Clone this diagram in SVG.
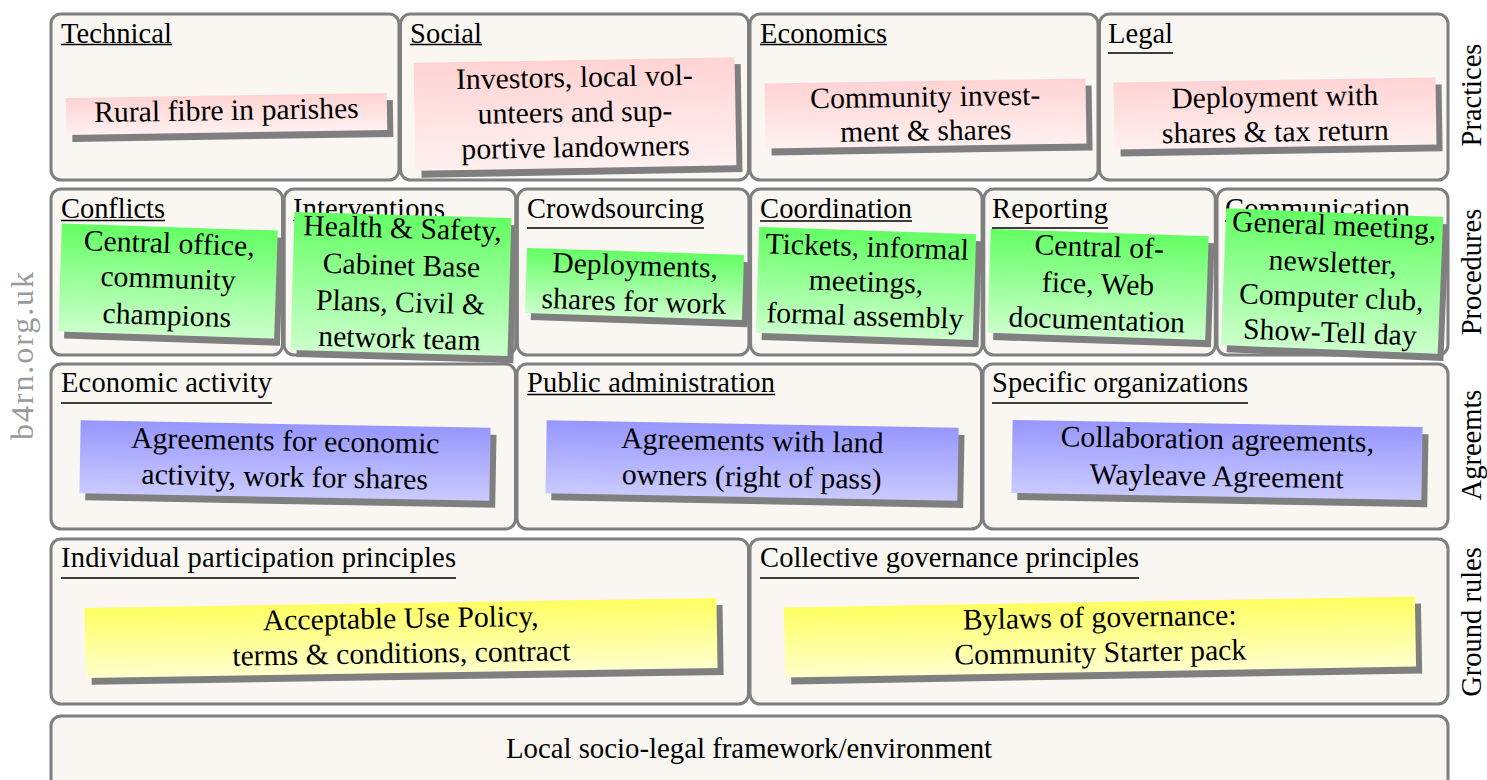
<svg xmlns="http://www.w3.org/2000/svg" width="1487" height="780" viewBox="0 0 1487 780">
<defs>
<linearGradient id="gPink" x1="0" y1="0" x2="0" y2="1"><stop offset="0" stop-color="#ffd3d3"/><stop offset="1" stop-color="#fff0f0"/></linearGradient>
<linearGradient id="gGreen" x1="0" y1="0" x2="0" y2="1"><stop offset="0" stop-color="#63ff63"/><stop offset="1" stop-color="#ccffcc"/></linearGradient>
<linearGradient id="gBlue" x1="0" y1="0" x2="0" y2="1"><stop offset="0" stop-color="#9696ff"/><stop offset="1" stop-color="#cacaff"/></linearGradient>
<linearGradient id="gYellow" x1="0" y1="0" x2="0" y2="1"><stop offset="0" stop-color="#ffff60"/><stop offset="1" stop-color="#ffffcc"/></linearGradient>
<style>
.box{fill:#faf7f2;stroke:#7f7f7f;stroke-width:3}
.t{font-family:"Liberation Serif","Times New Roman",serif;font-size:28.5px;fill:#000}
.n{font-family:"Liberation Serif","Times New Roman",serif;font-size:29.7px;fill:#000;text-anchor:middle}
.ul{stroke:#000;stroke-width:1.3}
.sh{fill:#7f7f7f}
.side{font-family:"Liberation Serif","Times New Roman",serif;font-size:28.5px;fill:#000;text-anchor:middle}
.wm{font-family:"Liberation Serif","Times New Roman",serif;font-size:32px;fill:#9a9a9a;text-anchor:middle}
</style>
</defs>

<text class="wm" transform="translate(33,356) rotate(-90)" textLength="168">b4rn.org.uk</text>

<g id="labels">
<text class="side" transform="translate(1481,95) rotate(-90)">Practices</text>
<text class="side" transform="translate(1481,272) rotate(-90)">Procedures</text>
<text class="side" transform="translate(1481,445) rotate(-90)">Agreemts</text>
<text class="side" transform="translate(1481,622) rotate(-90)">Ground rules</text>
</g>

<!-- Row 1: Practices -->
<g id="box-technical"><rect class="box" x="51" y="14" width="348" height="166" rx="10"/><text class="t" x="61" y="42.5" textLength="111">Technical</text><line class="ul" x1="61" y1="44.5" x2="172" y2="44.5"/></g>
<g id="box-social"><rect class="box" x="400.5" y="14" width="348" height="166" rx="10"/><text class="t" x="410" y="42.5" textLength="72">Social</text><line class="ul" x1="410" y1="44.5" x2="482" y2="44.5"/></g>
<g id="box-economics"><rect class="box" x="750" y="14" width="348" height="166" rx="10"/><text class="t" x="760" y="42.5" textLength="127">Economics</text><line class="ul" x1="760" y1="44.5" x2="887" y2="44.5"/></g>
<g id="box-legal"><rect class="box" x="1099.5" y="14" width="348.5" height="166" rx="10"/><text class="t" x="1108" y="42.5" textLength="65">Legal</text><line class="ul" x1="1108" y1="53" x2="1173" y2="53"/></g>

<!-- Row 2: Procedures -->
<g id="box-conflicts"><rect class="box" x="51" y="189" width="231.5" height="166" rx="10"/><text class="t" x="61" y="218" textLength="104">Conflicts</text><line class="ul" x1="61" y1="220.5" x2="165" y2="220.5"/></g>
<g id="box-interventions"><rect class="box" x="284.2" y="189" width="231.5" height="166" rx="10"/><text class="t" x="293" y="218" textLength="152">Interventions</text><line class="ul" x1="293" y1="220.5" x2="445" y2="220.5"/></g>
<g id="box-crowdsourcing"><rect class="box" x="517.4" y="189" width="231.5" height="166" rx="10"/><text class="t" x="527" y="218" textLength="177">Crowdsourcing</text><line class="ul" x1="527" y1="228" x2="704" y2="228"/></g>
<g id="box-coordination"><rect class="box" x="750.6" y="189" width="231.5" height="166" rx="10"/><text class="t" x="760" y="218" textLength="152">Coordination</text><line class="ul" x1="760" y1="221" x2="912" y2="221"/></g>
<g id="box-reporting"><rect class="box" x="983.8" y="189" width="231.5" height="166" rx="10"/><text class="t" x="992" y="218" textLength="116">Reporting</text><line class="ul" x1="992" y1="228" x2="1108" y2="228"/></g>
<g id="box-communication"><rect class="box" x="1217" y="189" width="231" height="166" rx="10"/><text class="t" x="1225" y="218" textLength="185">Communication</text><line class="ul" x1="1225" y1="221" x2="1410" y2="221"/></g>

<!-- Row 3: Agreements -->
<g id="box-economic-activity"><rect class="box" x="51" y="364" width="464.5" height="165" rx="10"/><text class="t" x="61" y="392" textLength="211">Economic activity</text><line class="ul" x1="61" y1="403" x2="272" y2="403"/></g>
<g id="box-public-administration"><rect class="box" x="517" y="364" width="464.5" height="165" rx="10"/><text class="t" x="527" y="392" textLength="248">Public administration</text><line class="ul" x1="527" y1="394.5" x2="775" y2="394.5"/></g>
<g id="box-specific-organizations"><rect class="box" x="983" y="364" width="465" height="165" rx="10"/><text class="t" x="992" y="392" textLength="256">Specific organizations</text><line class="ul" x1="992" y1="403" x2="1248" y2="403"/></g>

<!-- Row 4: Ground rules -->
<g id="box-individual"><rect class="box" x="51" y="539" width="697.5" height="165" rx="10"/><text class="t" x="61" y="567" textLength="395">Individual participation principles</text><line class="ul" x1="61" y1="578" x2="456" y2="578"/></g>
<g id="box-collective"><rect class="box" x="750" y="539" width="698" height="165" rx="10"/><text class="t" x="760" y="567" textLength="379">Collective governance principles</text><line class="ul" x1="760" y1="578" x2="1139" y2="578"/></g>

<!-- Row 5 -->
<g id="box-framework"><rect class="box" x="51" y="716" width="1397" height="110" rx="10"/><text class="n" x="749" y="758" style="font-size:28.8px">Local socio-legal framework/environment</text></g>

<g id="connectors"></g>

<!-- Sticky notes -->
<g id="note-technical" transform="translate(226.5,114) rotate(-0.9)">
<rect class="sh" x="-154.5" y="-11.5" width="321" height="37"/><rect x="-160.5" y="-18.5" width="321" height="37" fill="url(#gPink)"/>
<text class="n" x="0" y="6">Rural fibre in parishes</text></g>
<g id="note-social" transform="translate(575,114) rotate(-1)">
<rect class="sh" x="-154.5" y="-47" width="321" height="108"/><rect x="-160.5" y="-54" width="321" height="108" fill="url(#gPink)"/>
<text class="n" x="0" y="-27">Investors, local vol-</text><text class="n" x="0" y="8">unteers and sup-</text><text class="n" x="0" y="43">portive landowners</text></g>
<g id="note-economics" transform="translate(925.5,113.5) rotate(-0.9)">
<rect class="sh" x="-154.5" y="-25.5" width="321" height="65"/><rect x="-160.5" y="-32.5" width="321" height="65" fill="url(#gPink)"/>
<text class="n" x="0" y="-7">Community invest-</text><text class="n" x="0" y="27">ment &amp; shares</text></g>
<g id="note-legal" transform="translate(1275,113.5) rotate(-0.9)">
<rect class="sh" x="-155" y="-26.5" width="322" height="67"/><rect x="-161" y="-33.5" width="322" height="67" fill="url(#gPink)"/>
<text class="n" x="0" y="-7">Deployment with</text><text class="n" x="0" y="28">shares &amp; tax return</text></g>

<g id="note-conflicts" transform="translate(168,281) rotate(1.9)">
<rect class="sh" x="-102" y="-47" width="216" height="108"/><rect x="-108" y="-54" width="216" height="108" fill="url(#gGreen)"/>
<text class="n" x="0" y="-28">Central office,</text><text class="n" x="0" y="7">community</text><text class="n" x="0" y="44">champions</text></g>
<g id="note-interventions" transform="translate(401,284) rotate(1.6)">
<rect class="sh" x="-102.5" y="-62" width="217" height="138"/><rect x="-108.5" y="-69" width="217" height="138" fill="url(#gGreen)"/>
<text class="n" x="0" y="-46">Health &amp; Safety,</text><text class="n" x="0" y="-9">Cabinet Base</text><text class="n" x="0" y="28">Plans, Civil &amp;</text><text class="n" x="0" y="64">network team</text></g>
<g id="note-crowdsourcing" transform="translate(634.5,284) rotate(1.9)">
<rect class="sh" x="-102.5" y="-25.5" width="217" height="65"/><rect x="-108.5" y="-32.5" width="217" height="65" fill="url(#gGreen)"/>
<text class="n" x="0" y="-9">Deployments,</text><text class="n" x="0" y="27">shares for work</text></g>
<g id="note-coordination" transform="translate(866,283.5) rotate(1.9)">
<rect class="sh" x="-102.5" y="-46" width="217" height="106"/><rect x="-108.5" y="-53" width="217" height="106" fill="url(#gGreen)"/>
<text class="n" x="0" y="-27">Tickets, informal</text><text class="n" x="0" y="8">meetings,</text><text class="n" x="0" y="42">formal assembly</text></g>
<g id="note-reporting" transform="translate(1098,284.5) rotate(1.9)">
<rect class="sh" x="-103" y="-45" width="218" height="104"/><rect x="-109" y="-52" width="218" height="104" fill="url(#gGreen)"/>
<text class="n" x="0" y="-28">Central of-</text><text class="n" x="0" y="9">fice, Web</text><text class="n" x="0" y="45">documentation</text></g>
<g id="note-communication" transform="translate(1332,281) rotate(2.3)">
<rect class="sh" x="-102.5" y="-61.5" width="217" height="137"/><rect x="-108.5" y="-68.5" width="217" height="137" fill="url(#gGreen)"/>
<text class="n" x="0" y="-46">General meeting,</text><text class="n" x="0" y="-9">newsletter,</text><text class="n" x="0" y="26">Computer club,</text><text class="n" x="0" y="61">Show-Tell day</text></g>

<g id="note-economic-activity" transform="translate(285,460.5) rotate(1.05)">
<rect class="sh" x="-199" y="-29.5" width="410" height="73"/><rect x="-205" y="-36.5" width="410" height="73" fill="url(#gBlue)"/>
<text class="n" x="0" y="-10">Agreements for economic</text><text class="n" x="0" y="26">activity, work for shares</text></g>
<g id="note-public-administration" transform="translate(752,460.5) rotate(1.05)">
<rect class="sh" x="-200" y="-29.5" width="412" height="73"/><rect x="-206" y="-36.5" width="412" height="73" fill="url(#gBlue)"/>
<text class="n" x="0" y="-10">Agreements with land</text><text class="n" x="0" y="26">owners (right of pass)</text></g>
<g id="note-specific-organizations" transform="translate(1217,460) rotate(1)">
<rect class="sh" x="-199" y="-29.5" width="410" height="73"/><rect x="-205" y="-36.5" width="410" height="73" fill="url(#gBlue)"/>
<text class="n" x="0" y="-11">Collaboration agreements,</text><text class="n" x="0" y="26">Wayleave Agreement</text></g>

<g id="note-individual" transform="translate(401,638) rotate(-0.9)">
<rect class="sh" x="-310" y="-28" width="632" height="70"/><rect x="-316" y="-35" width="632" height="70" fill="url(#gYellow)"/>
<text class="n" x="0" y="-10">Acceptable Use Policy,</text><text class="n" x="0" y="25">terms &amp; conditions, contract</text></g>
<g id="note-collective" transform="translate(1100,637) rotate(-1)">
<rect class="sh" x="-309.5" y="-28" width="631" height="70"/><rect x="-315.5" y="-35" width="631" height="70" fill="url(#gYellow)"/>
<text class="n" x="0" y="-10">Bylaws of governance:</text><text class="n" x="0" y="25">Community Starter pack</text></g>
</svg>
